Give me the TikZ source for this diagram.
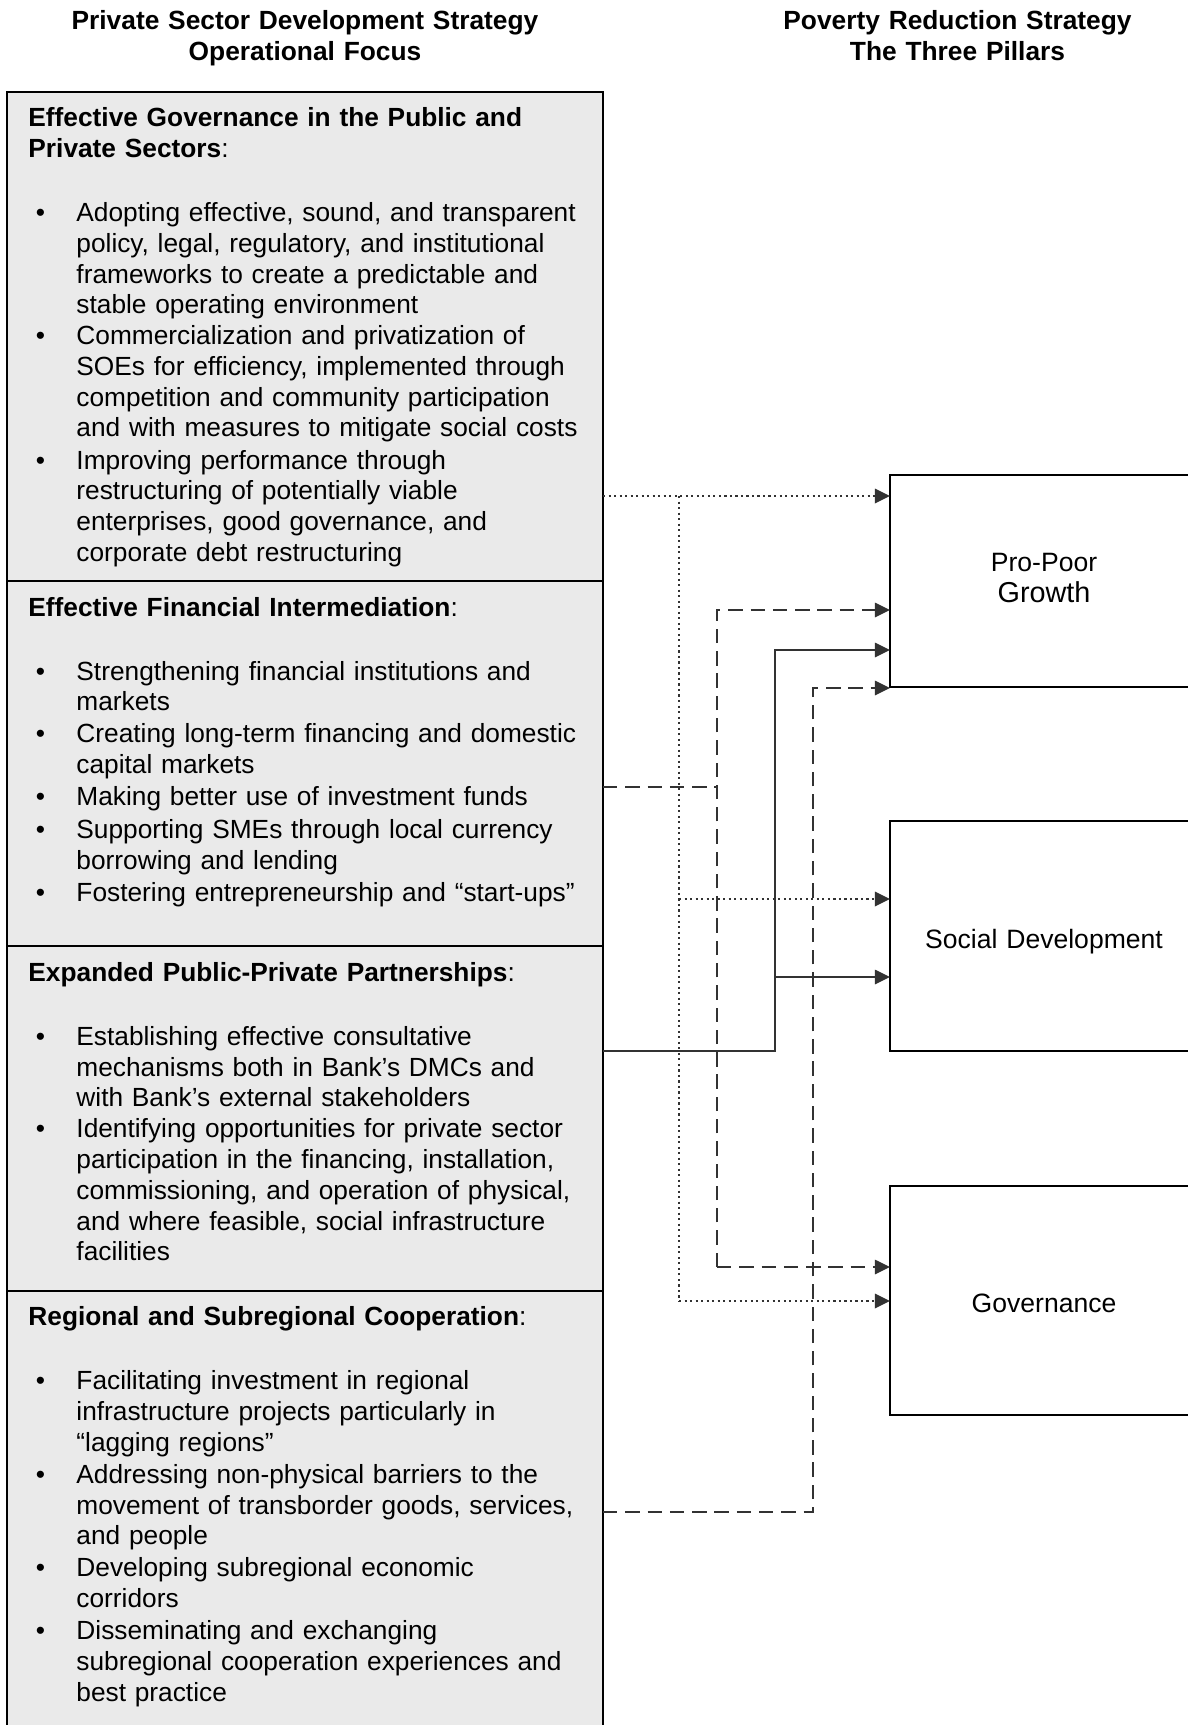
\documentclass[tikz,border=0pt]{standalone}
\usepackage{fontspec}
\setmainfont{Liberation Sans}
\usetikzlibrary{arrows.meta}
\definecolor{boxfill}{RGB}{234,234,234}
\definecolor{conn}{RGB}{50,50,50}
\begin{document}
\begin{tikzpicture}[x=0.4444pt,y=-0.4444pt,
  bodyfont/.style={font=\fontsize{11.68}{13.69}\selectfont},
  ttl/.style={inner sep=0pt, anchor=base, text width=240pt, align=center, font=\fontsize{11.7}{13.4}\selectfont\bfseries},
  txt/.style={bodyfont, inner sep=0pt, anchor=base west, text width=236pt, align=left},
  bul/.style={bodyfont, inner sep=0pt, anchor=base},
  sect/.style={draw=black, line width=0.8pt, fill=boxfill, inner sep=0pt, outer sep=0pt, anchor=north west, minimum width=264.9pt},
  pillar/.style={draw=black, line width=0.8pt, fill=white, inner sep=0pt, outer sep=0pt, anchor=north west, minimum width=136.9pt, text width=133pt, align=center, font=\fontsize{11.8}{13.69}\selectfont},
  tip/.style={-{Triangle[length=6.7pt,width=6.4pt]}},
  conline/.style={draw=conn, fill=none, line width=0.7pt},
  dotc/.style={conline, line width=0.95pt, dash pattern=on 0.95pt off 1.5pt},
  dashc/.style={conline, dash pattern=on 6.4pt off 3.5pt},
  solc/.style={conline}
]
\useasboundingbox (0,0) rectangle (1188,1725);
\clip (0,0) rectangle (1188,1725);

% titles
\node[ttl] (t1) at (305,30) {Private Sector Development Strategy\\Operational Focus};
\node[ttl] (t2) at (957.5,30) {Poverty Reduction Strategy\\The Three Pillars};

% left sections
\node[sect, minimum height=217.3pt] (s1) at (7,92) {};
\node[sect, minimum height=162.2pt] (s2) at (7,581) {};
\node[sect, minimum height=153.3pt] (s3) at (7,946) {};
\node[sect, minimum height=197.3pt] (s4) at (7,1291) {};

% section 1
\node[txt] (h1) at (28,126.7) {\textbf{Effective Governance in the Public and\\Private Sectors}:};
\node[bul] (b11) at (40.5,221.5) {•};
\node[txt] (p11) at (76,221.5) {Adopting effective, sound, and transparent\\policy, legal, regulatory, and institutional\\frameworks to create a predictable and\\stable operating environment};
\node[bul] (b12) at (40.5,344.5) {•};
\node[txt] (p12) at (76,344.5) {Commercialization and privatization of\\SOEs for efficiency, implemented through\\competition and community participation\\and with measures to mitigate social costs};
\node[bul] (b13) at (40.5,469) {•};
\node[txt] (p13) at (76,469) {Improving performance through\\restructuring of potentially viable\\enterprises, good governance, and\\corporate debt restructuring};

% section 2
\node[txt] (h2) at (28,616) {\textbf{Effective Financial Intermediation}:};
\node[bul] (b21) at (40.5,680) {•};
\node[txt] (p21) at (76,680) {Strengthening financial institutions and\\markets};
\node[bul] (b22) at (40.5,742.5) {•};
\node[txt] (p22) at (76,742.5) {Creating long-term financing and domestic\\capital markets};
\node[bul] (b23) at (40.5,805.4) {•};
\node[txt] (p23) at (76,805.4) {Making better use of investment funds};
\node[bul] (b24) at (40.5,838.4) {•};
\node[txt] (p24) at (76,838.4) {Supporting SMEs through local currency\\borrowing and lending};
\node[bul] (b25) at (40.5,901.1) {•};
\node[txt] (p25) at (76,901.1) {Fostering entrepreneurship and “start-ups”};

% section 3
\node[txt] (h3) at (28,981) {\textbf{Expanded Public-Private Partnerships}:};
\node[bul] (b31) at (40.5,1045.2) {•};
\node[txt] (p31) at (76,1045.2) {Establishing effective consultative\\mechanisms both in Bank’s DMCs and\\with Bank’s external stakeholders};
\node[bul] (b32) at (40.5,1137.6) {•};
\node[txt] (p32) at (76,1137.6) {Identifying opportunities for private sector\\participation in the financing, installation,\\commissioning, and operation of physical,\\and where feasible, social infrastructure\\facilities};

% section 4
\node[txt] (h4) at (28,1325.5) {\textbf{Regional and Subregional Cooperation}:};
\node[bul] (b41) at (40.5,1389.7) {•};
\node[txt] (p41) at (76,1389.7) {Facilitating investment in regional\\infrastructure projects particularly in\\“lagging regions”};
\node[bul] (b42) at (40.5,1483.2) {•};
\node[txt] (p42) at (76,1483.2) {Addressing non-physical barriers to the\\movement of transborder goods, services,\\and people};
\node[bul] (b43) at (40.5,1576.5) {•};
\node[txt] (p43) at (76,1576.5) {Developing subregional economic\\corridors};
\node[bul] (b44) at (40.5,1639.5) {•};
\node[txt] (p44) at (76,1639.5) {Disseminating and exchanging\\subregional cooperation experiences and\\best practice};

% pillars
\node[pillar, minimum height=94.2pt, text height=7pt, text depth=15pt] (pp) at (890,475) {Pro-Poor\\\fontsize{12.8}{15}\selectfont Growth};
\node[pillar, minimum height=102.2pt, text height=11pt, text depth=0pt] (sd) at (890,821) {Social Development};
\node[pillar, minimum height=101.8pt, text height=11pt, text depth=0pt] (gv) at (890,1186) {Governance};

% junction coordinates
\coordinate (dA) at (679,496);
\coordinate (dB) at (679,899);
\coordinate (dC) at (679,1301);
\coordinate (fA) at (717,610);
\coordinate (fB) at (717,787);
\coordinate (fC) at (717,1267);
\coordinate (pA) at (775,650);
\coordinate (pB) at (775,977);
\coordinate (pC) at (775,1051);
\coordinate (rA) at (813,688);
\coordinate (rB) at (813,1512);

% dotted: governance
\draw[dotc, tip] (s1.east |- dA) -- (pp.west |- dA);
\draw[dotc] (dA) -- (dC);
\draw[dotc, tip] (dB) -- (sd.west |- dB);
\draw[dotc, tip] (dC) -- (gv.west |- dC);

% dashed: financial intermediation
\draw[dashc] (s2.east |- fB) -- (fB);
\draw[dashc, tip] (fC) -- (fA) -- (pp.west |- fA);
\draw[dashc, tip] (fC) -- (gv.west |- fC);

% solid: public-private partnerships
\draw[solc, tip] (s3.east |- pC) -- (pC) -- (pA) -- (pp.west |- pA);
\draw[solc, tip] (pB) -- (sd.west |- pB);

% dashed: regional cooperation
\draw[dashc, tip] (s4.east |- rB) -- (rB) -- (rA) -- (pp.west |- rA);
\end{tikzpicture}
\end{document}
